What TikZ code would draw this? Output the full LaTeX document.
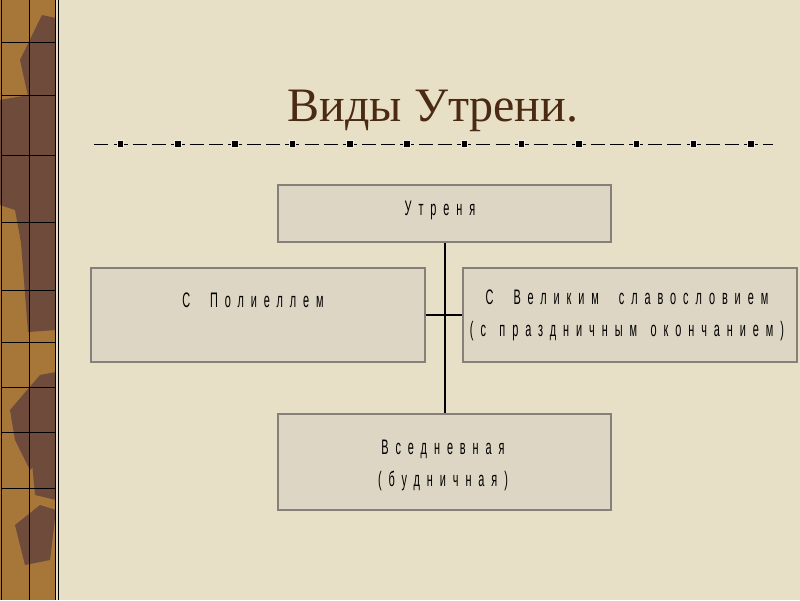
\documentclass[tikz,border=0pt]{standalone}
\usepackage{fontspec}
\setmainfont{Liberation Serif}
\newfontfamily\boxfont[FakeStretch=0.52,LetterSpace=33]{Liberation Sans}
\definecolor{paper}{HTML}{E7E0C6}
\definecolor{boxfill}{HTML}{DDD6C4}
\definecolor{boxborder}{HTML}{85807A}
\definecolor{titlecol}{HTML}{4A2A12}
\definecolor{stripA}{HTML}{A7773A}
\definecolor{stripB}{HTML}{6F4B3C}
\tikzset{
  box/.style={draw=boxborder, line width=2.2pt, fill=boxfill, inner sep=0pt},
  lbl/.style={font=\boxfont\fontsize{21}{32}\selectfont, text=black, align=center, inner sep=0pt},
  conn/.style={draw=black, line width=2pt},
  marker/.style={fill=black, draw=paper!60!white, line width=0.8pt, minimum size=6.5pt, inner sep=0pt},
  stripline/.style={draw=black, line width=1pt},
}
\begin{document}
\begin{tikzpicture}[x=1pt,y=-1pt]
\useasboundingbox (0,0) rectangle (800,600);
\fill[paper] (0,0) rectangle (800,600);
% left decorative strip
\begin{scope}
\clip (0,0) rectangle (56,600);
\fill[stripA] (0,0) rectangle (56,600);
\fill[stripB] (20,60) -- (42,15) -- (56,18) -- (56,110) -- (30,105) -- cycle;
\fill[stripB] (0,100) -- (56,90) -- (56,285) -- (28,280) -- (15,210) -- (0,205) -- cycle;
\fill[stripB] (20,230) -- (56,215) -- (56,330) -- (28,332) -- cycle;
\fill[stripB] (10,410) -- (40,375) -- (56,372) -- (56,445) -- (30,470) -- (15,440) -- cycle;
\fill[stripB] (30,440) -- (56,430) -- (56,500) -- (35,495) -- cycle;
\fill[stripB] (15,525) -- (40,505) -- (56,510) -- (50,560) -- (25,565) -- cycle;
\end{scope}
\draw[stripline] (1.5,0) -- (1.5,600);
\draw[stripline] (29,0) -- (29,600);
\draw[stripline] (55.5,0) -- (55.5,600);
\draw[draw=paper, line width=1.2pt] (57,0) -- (57,600);
\draw[stripline] (58.5,0) -- (58.5,600);
\foreach \yy in {42,95,155,222,290,342,387,432,488} {
  \draw[stripline] (1.5,\yy) -- (55.5,\yy);
}
% title
\node[font=\fontsize{48}{58}\selectfont, text=titlecol, anchor=base] (title) at (433,121) {Виды Утрени.};
% dashed rule
\coordinate (dl) at (93,144);
\coordinate (dr) at (773,144);
\draw[black, line width=1pt, dash pattern=on 14pt off 5.1pt, dash phase=17.7pt] (dl) -- (dr);
\foreach \i in {0,...,11} {
  \node[marker] (m\i) at (120.5+57.3*\i,144) {};
}
% boxes
\node[box, minimum width=333pt, minimum height=57pt] (u) at (444.5,213.5) {};
\node[box, minimum width=334pt, minimum height=94pt] (p) at (258,315) {};
\node[box, minimum width=334pt, minimum height=94pt] (g) at (630,315) {};
\node[box, minimum width=333pt, minimum height=96pt] (v) at (444.5,462) {};
% labels
\node[lbl] (ut) at (440,210) {Утреня};
\node[lbl] (pt) at (253,300) {С \ Полиеллем};
\node[lbl] (gt) at (627,315) {С \ Великим \ славословием\\(с \,праздничным \,окончанием)};
\node[lbl] (vt) at (443,465) {Вседневная\\(будничная)};
% connectors
\draw[conn] (u.south) -- (v.north);
\draw[conn] (p.east) -- (g.west);
\end{tikzpicture}
\end{document}
